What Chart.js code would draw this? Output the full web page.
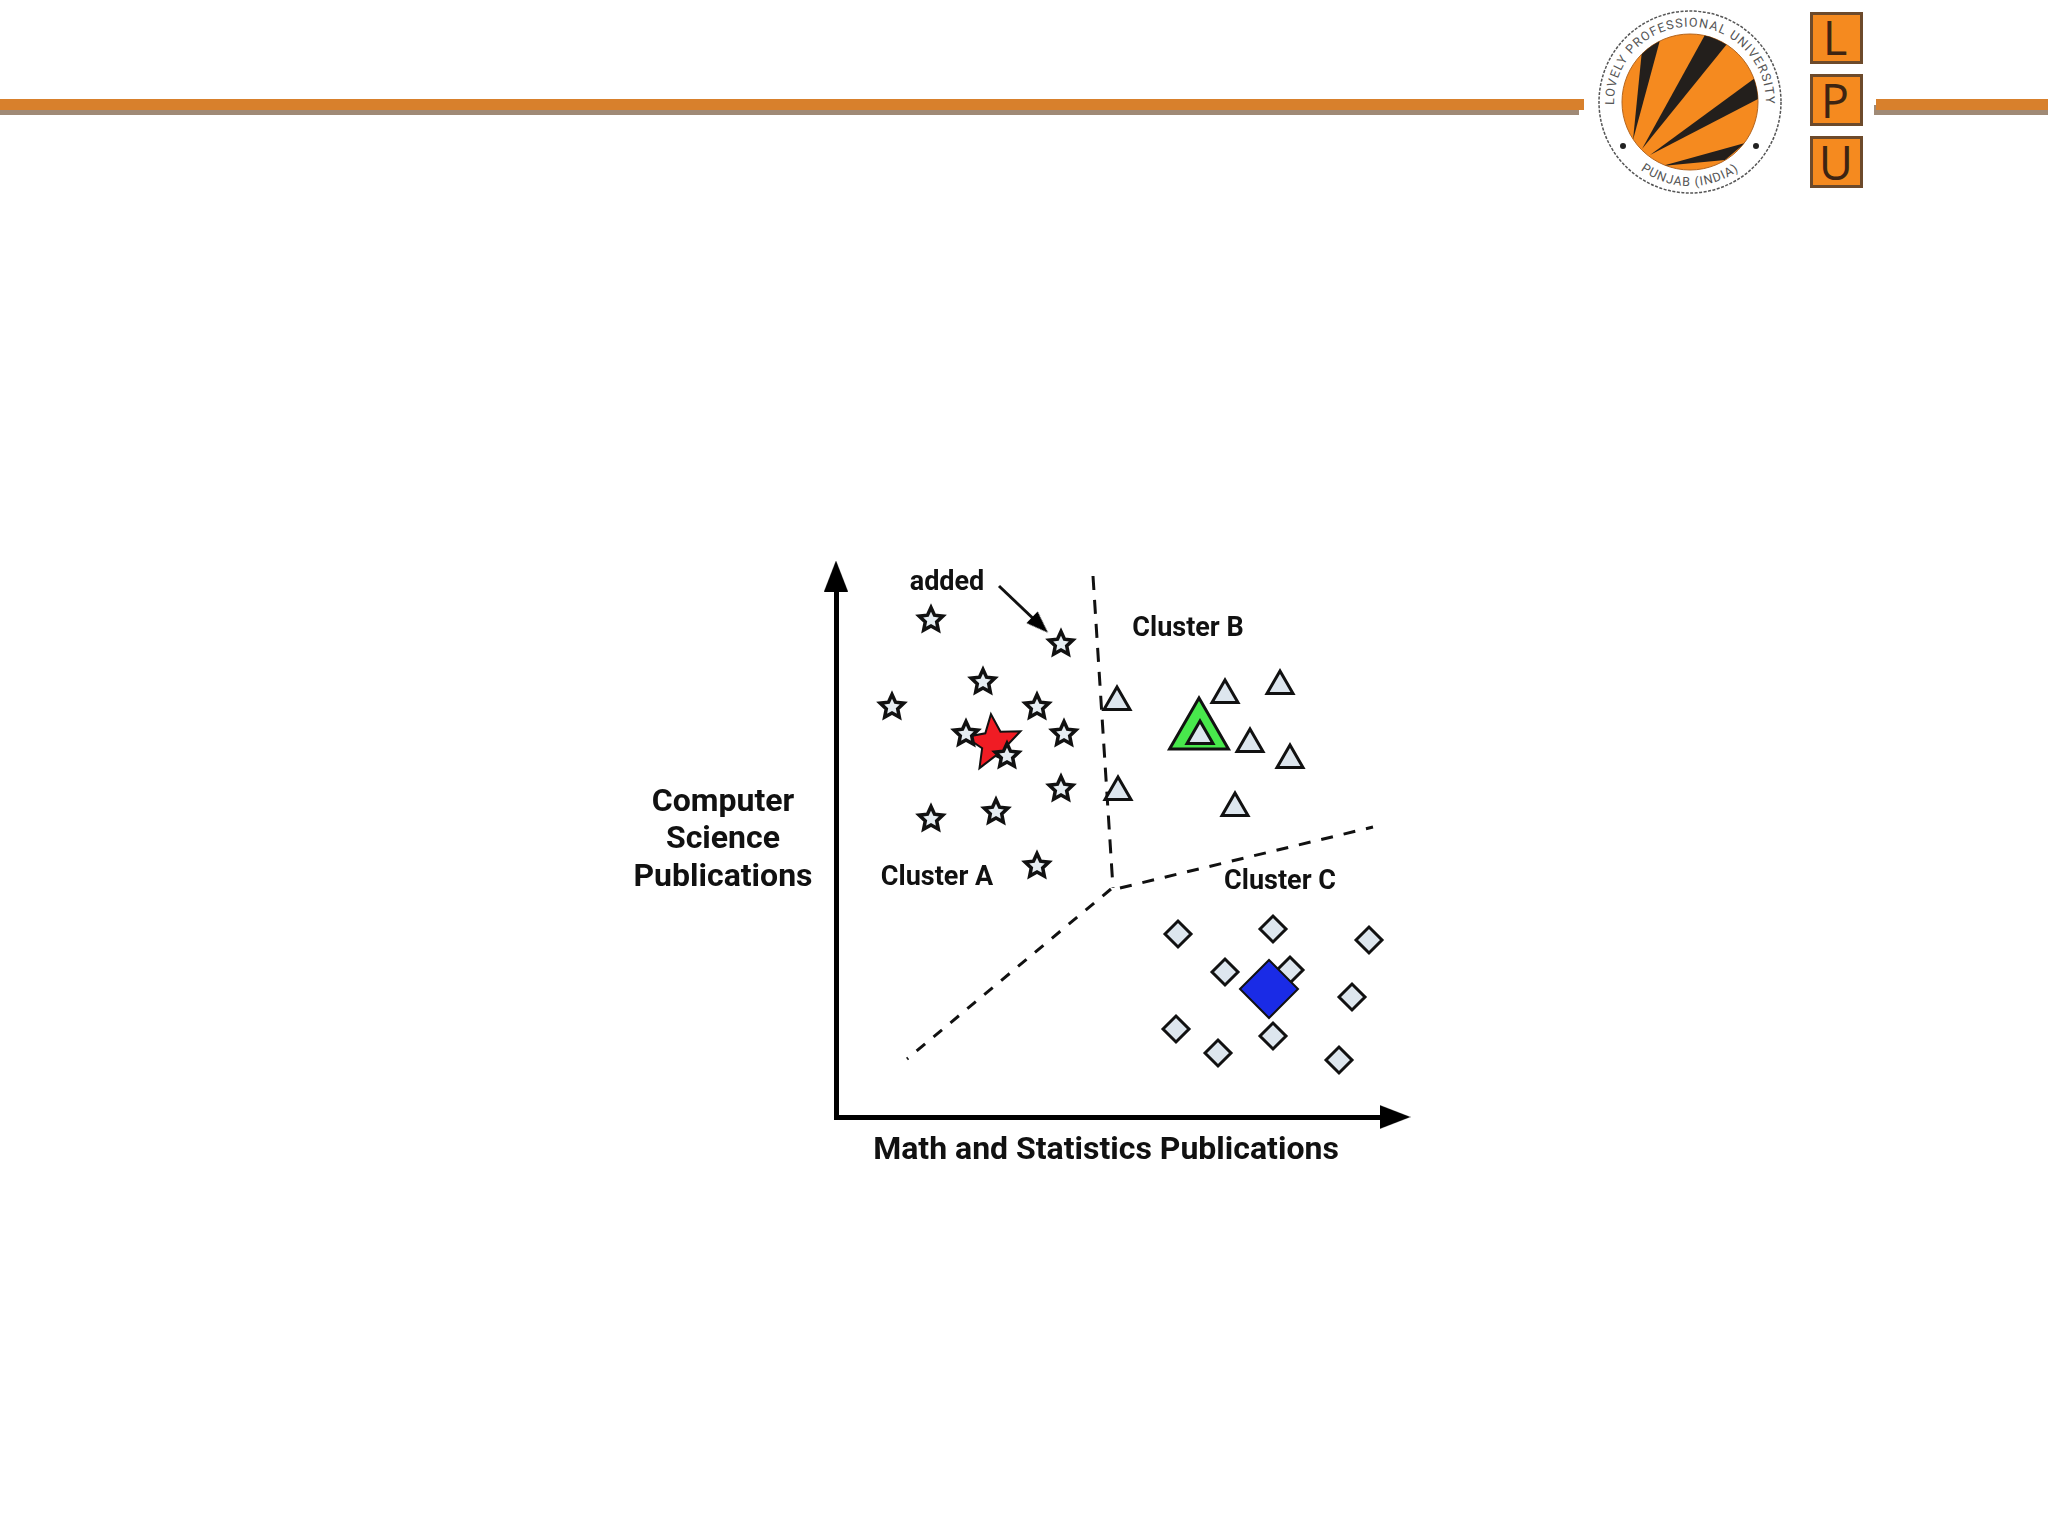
<!DOCTYPE html>
<html lang="en">
<head>
<meta charset="UTF-8">
<title>Clusters of publications</title>
<script src="https://cdn.jsdelivr.net/npm/chart.js"></script>
<style>
  html, body { margin: 0; background: #fff; }
  #page { position: relative; width: 2048px; height: 1536px; overflow: hidden; }
  #header, #chart { position: absolute; left: 0; top: 0; }
</style>
</head>
<body>
<div id="page">
  <!-- slide header: rule and logo -->
  <svg id="header" width="2048" height="220" viewBox="0 0 2048 220">
    <defs>
      <clipPath id="disc"><circle cx="1690" cy="102" r="68"/></clipPath>
      <path id="ringTop" d="M 1618 127 A 76 76 0 1 1 1762 127"/>
      <path id="ringBottom" d="M 1635 165.5 A 84 84 0 0 0 1745 165.5"/>
    </defs>
    <rect x="0" y="99" width="1584" height="11" fill="#d8802c"/>
    <rect x="0" y="110" width="1579" height="5" fill="#a08a76"/>
    <rect x="1874" y="105" width="174" height="10" fill="#a08a76"/>
    <rect x="1876" y="99" width="172" height="11" fill="#d8802c"/>

    <circle cx="1690" cy="102" r="91" fill="none" stroke="#555" stroke-width="1.5" stroke-dasharray="3 1.5"/>
    <circle cx="1690" cy="102" r="68" fill="#f58a1f" stroke="#b5651d" stroke-width="1"/>
    <g clip-path="url(#disc)" fill="#231f1c">
      <polygon points="1633,140 1642,50 1660,40"/>
      <polygon points="1642,149 1706,33 1727,44"/>
      <polygon points="1650,155 1755,78 1760,98"/>
      <polygon points="1662,166 1745,143 1725,160"/>
    </g>
    <g font-family="Roboto, sans-serif" font-size="12.5" fill="#555">
      <text letter-spacing="1.2"><textPath href="#ringTop" startOffset="50%" text-anchor="middle">LOVELY    PROFESSIONAL    UNIVERSITY</textPath></text>
      <text letter-spacing="1"><textPath href="#ringBottom" startOffset="50%" text-anchor="middle">PUNJAB (INDIA)</textPath></text>
    </g>
    <circle cx="1623" cy="146" r="3" fill="#222"/>
    <circle cx="1756" cy="146" r="3" fill="#222"/>

    <g fill="#f58a1f" stroke="#6d4a2b" stroke-width="3">
      <rect x="1811.5" y="13.5" width="50" height="49"/>
      <rect x="1811.5" y="75.5" width="50" height="49"/>
      <rect x="1811.5" y="137.5" width="50" height="49"/>
    </g>
    <g font-family="'Open Sans', sans-serif" font-size="47" fill="#3d2412" text-anchor="middle">
      <text x="1835" y="55">L</text>
      <text x="1835" y="118">P</text>
      <text x="1836" y="180">U</text>
    </g>
  </svg>
  <canvas id="chart" width="2048" height="1536"></canvas>
</div>

<script>
  // values, in axis units
  const xMax = 559;
  const yMax = 541;

  const clusterA = [[95, 497], [225, 473], [147, 435], [56, 410], [201, 410], [130, 383],
                    [228, 383], [171, 361], [225, 328], [160, 305], [95, 298], [201, 251]];
  const clusterB = [[281, 415], [389, 422], [444, 431], [364, 381], [414, 373], [454, 357],
                    [282, 325], [399, 309]];
  const clusterC = [[342, 183], [437, 188], [533, 177], [389, 145], [454, 147], [516, 120],
                    [340, 88], [382, 64], [437, 81], [503, 57]];
  const centroidA = [[158, 374]];
  const centroidB = [[363, 385]];
  const centroidC = [[433, 128]];

  const borderAB = [[257, 541], [277, 229]];
  const borderAC = [[275, 228], [71, 58]];
  const borderBC = [[284, 229], [537, 290]];
  const addedArrow = [[163, 531], [204, 492]];
  const addedHead = [[204, 492]];
  const yAxisHead = [[0, 541]];
  const xAxisHead = [[559, 0]];

  const labels = [
    { text: 'added', x: 111, y: 534, size: 27 },
    { text: 'Cluster B', x: 352, y: 488, size: 27 },
    { text: 'Cluster A', x: 101, y: 239, size: 27 },
    { text: 'Cluster C', x: 444, y: 235, size: 27 },
    { text: 'Computer', x: -113, y: 314, size: 32 },
    { text: 'Science', x: -113, y: 277, size: 32 },
    { text: 'Publications', x: -113, y: 239, size: 32 },
    { text: 'Math and Statistics Publications', x: 270, y: -34, size: 32 }
  ];

  const toPoints = pairs => pairs.map(p => ({ x: p[0], y: p[1] }));

  function starMark(outer, inner, lineWidth, fill, tilt) {
    const size = Math.ceil(2 * outer + 2 * lineWidth + 4);
    const c = document.createElement('canvas');
    c.width = c.height = size;
    const g = c.getContext('2d');
    g.translate(size / 2, size / 2);
    g.rotate(tilt * Math.PI / 180);
    g.beginPath();
    for (let i = 0; i < 10; i++) {
      const r = i % 2 ? inner : outer;
      const a = i * Math.PI / 5 - Math.PI / 2;
      g.lineTo(r * Math.cos(a), r * Math.sin(a));
    }
    g.closePath();
    g.fillStyle = fill;
    g.fill();
    g.lineWidth = lineWidth;
    g.lineJoin = 'miter';
    g.strokeStyle = '#111';
    g.stroke();
    return c;
  }

  function headMark(length, halfWidth) {
    const c = document.createElement('canvas');
    c.width = 2 * halfWidth;
    c.height = length;
    const g = c.getContext('2d');
    g.beginPath();
    g.moveTo(halfWidth, 0);
    g.lineTo(2 * halfWidth, length);
    g.lineTo(0, length);
    g.closePath();
    g.fillStyle = '#000';
    g.fill();
    return c;
  }

  const dashed = (data, dash) => ({
    type: 'line', data: toPoints(data), borderColor: '#111', borderWidth: 3,
    borderDash: dash, pointRadius: 0, order: 9
  });

  const textLabels = {
    id: 'textLabels',
    afterDatasetsDraw(chart) {
      const { ctx, scales } = chart;
      ctx.save();
      ctx.fillStyle = '#111';
      ctx.textAlign = 'center';
      ctx.textBaseline = 'middle';
      labels.forEach(l => {
        ctx.font = '700 ' + l.size + 'px Roboto, sans-serif';
        ctx.fillText(l.text, scales.x.getPixelForValue(l.x), scales.y.getPixelForValue(l.y));
      });
      ctx.restore();
    }
  };

  new Chart(document.getElementById('chart'), {
    type: 'scatter',
    data: {
      datasets: [
        { data: toPoints(clusterB), pointStyle: 'triangle', pointRadius: 15, pointBorderWidth: 3,
          pointBackgroundColor: '#dde6ee', pointBorderColor: '#111', order: 1 },
        { data: toPoints(centroidB), pointStyle: 'triangle', pointRadius: 34, pointBorderWidth: 3,
          pointBackgroundColor: '#48e84c', pointBorderColor: '#111', order: 2 },
        { data: toPoints(centroidC), pointStyle: 'rectRot', pointRadius: 29, pointBorderWidth: 2,
          pointBackgroundColor: '#1a2be6', pointBorderColor: '#111', order: 1 },
        { data: toPoints(clusterC), pointStyle: 'rectRot', pointRadius: 13, pointBorderWidth: 3,
          pointBackgroundColor: '#dde6ee', pointBorderColor: '#111', order: 2 },
        { data: toPoints(clusterA), pointStyle: starMark(12.5, 6, 3.5, '#e6edf2', 0), order: 1 },
        { data: toPoints(centroidA), pointStyle: starMark(29, 13, 2, '#f01c24', -6), order: 2 },
        dashed(borderAB, [14, 10]),
        dashed(borderAC, [11, 11]),
        dashed(borderBC, [12, 11]),
        { type: 'line', data: toPoints(addedArrow), borderColor: '#111', borderWidth: 3, pointRadius: 0, order: 8 },
        { data: toPoints(addedHead), pointStyle: headMark(22, 8), pointRotation: 134, order: 7 },
        { data: toPoints(yAxisHead), pointStyle: headMark(31, 12), order: 7 },
        { data: toPoints(xAxisHead), pointStyle: headMark(31, 12), pointRotation: 90, order: 7 }
      ]
    },
    options: {
      responsive: false,
      animation: false,
      clip: false,
      layout: { padding: { left: 836, right: 653, top: 576, bottom: 419 } },
      plugins: { legend: { display: false }, tooltip: { enabled: false } },
      scales: {
        x: { type: 'linear', min: 0, max: xMax,
             grid: { display: false, tickLength: 0 }, ticks: { display: false },
             border: { display: true, color: '#000', width: 5 } },
        y: { type: 'linear', min: 0, max: yMax,
             grid: { display: false, tickLength: 0 }, ticks: { display: false },
             border: { display: true, color: '#000', width: 5 } }
      }
    },
    plugins: [textLabels]
  });
</script>
</body>
</html>
